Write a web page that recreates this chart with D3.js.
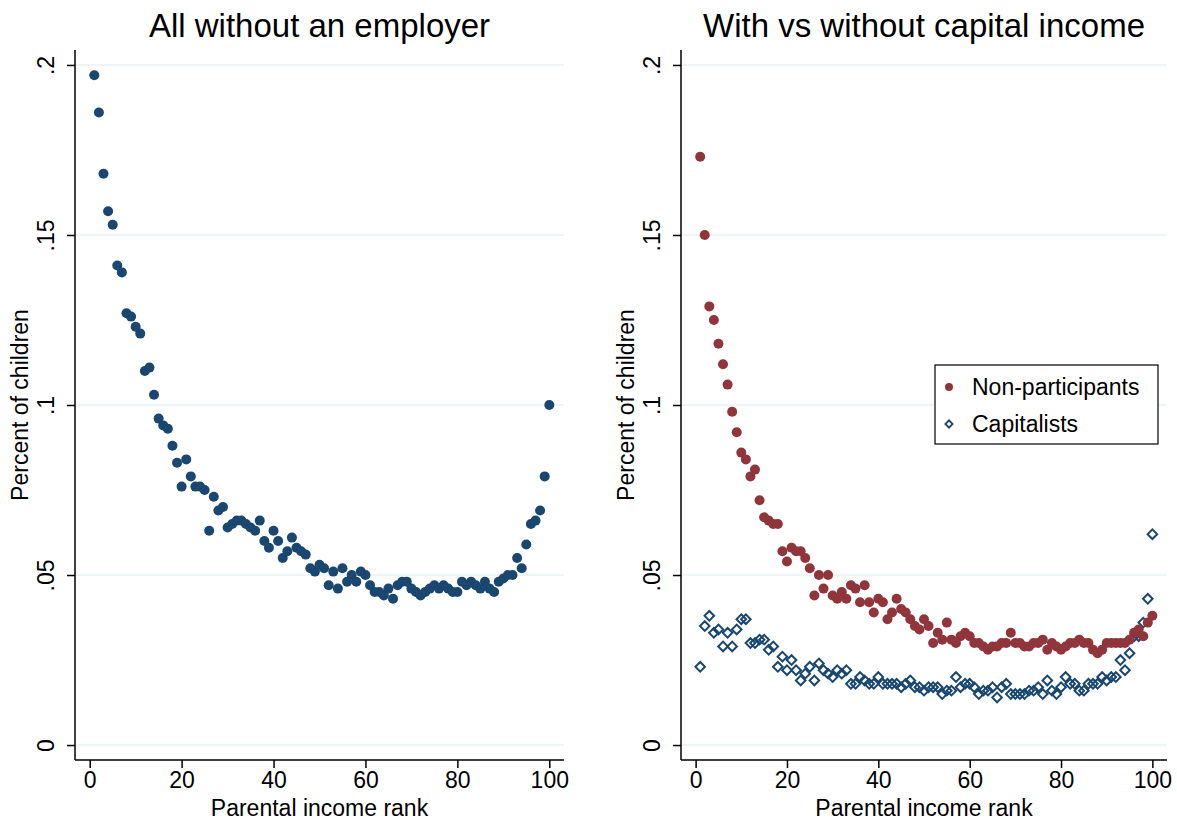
<!DOCTYPE html>
<html>
<head>
<meta charset="utf-8">
<script src="https://cdn.jsdelivr.net/npm/d3@7"></script>
<style>
  body { margin: 0; background: #fff; }
  svg { font-family: "Liberation Sans", Arial, sans-serif; }
</style>
</head>
<body>
<svg width="1177" height="823"></svg>
<script>
// parental income rank 1..100
var ranks = d3.range(1, 101);

// left panel: all without an employer
var allNoEmployer = [
  0.197, 0.186, 0.168, 0.157, 0.153, 0.141, 0.139, 0.127, 0.126, 0.123,
  0.121, 0.110, 0.111, 0.103, 0.096, 0.094, 0.093, 0.088, 0.083, 0.076,
  0.084, 0.079, 0.076, 0.076, 0.075, 0.063, 0.073, 0.069, 0.070, 0.064,
  0.065, 0.066, 0.066, 0.065, 0.064, 0.063, 0.066, 0.060, 0.058, 0.063,
  0.060, 0.055, 0.057, 0.061, 0.058, 0.057, 0.056, 0.052, 0.051, 0.053,
  0.052, 0.047, 0.051, 0.046, 0.052, 0.048, 0.050, 0.048, 0.051, 0.050,
  0.047, 0.045, 0.045, 0.044, 0.046, 0.043, 0.047, 0.048, 0.048, 0.046,
  0.045, 0.044, 0.045, 0.046, 0.047, 0.046, 0.047, 0.046, 0.045, 0.045,
  0.048, 0.047, 0.048, 0.047, 0.046, 0.048, 0.046, 0.045, 0.048, 0.049,
  0.050, 0.050, 0.055, 0.052, 0.059, 0.065, 0.066, 0.069, 0.079, 0.100
];

// right panel: non-participants
var nonParticipants = [
  0.173, 0.150, 0.129, 0.125, 0.118, 0.112, 0.106, 0.098, 0.092, 0.086,
  0.084, 0.079, 0.081, 0.072, 0.067, 0.066, 0.065, 0.065, 0.057, 0.054,
  0.058, 0.057, 0.057, 0.055, 0.052, 0.044, 0.050, 0.046, 0.050, 0.044,
  0.043, 0.045, 0.043, 0.047, 0.046, 0.042, 0.047, 0.042, 0.039, 0.043,
  0.042, 0.037, 0.039, 0.043, 0.040, 0.039, 0.037, 0.035, 0.034, 0.037,
  0.035, 0.030, 0.033, 0.031, 0.036, 0.031, 0.030, 0.032, 0.033, 0.032,
  0.030, 0.030, 0.029, 0.028, 0.029, 0.029, 0.030, 0.030, 0.033, 0.030,
  0.030, 0.029, 0.029, 0.030, 0.030, 0.031, 0.028, 0.030, 0.029, 0.028,
  0.029, 0.030, 0.030, 0.031, 0.030, 0.030, 0.028, 0.027, 0.028, 0.030,
  0.030, 0.030, 0.030, 0.030, 0.031, 0.033, 0.034, 0.032, 0.036, 0.038
];

// right panel: capitalists
var capitalists = [
  0.023, 0.035, 0.038, 0.033, 0.034, 0.029, 0.033, 0.029, 0.034, 0.037,
  0.037, 0.030, 0.030, 0.031, 0.031, 0.028, 0.029, 0.023, 0.026, 0.022,
  0.025, 0.022, 0.019, 0.021, 0.023, 0.019, 0.024, 0.022, 0.021, 0.020,
  0.022, 0.021, 0.022, 0.018, 0.018, 0.020, 0.019, 0.018, 0.018, 0.020,
  0.018, 0.018, 0.018, 0.018, 0.017, 0.018, 0.019, 0.017, 0.017, 0.016,
  0.017, 0.017, 0.017, 0.015, 0.016, 0.016, 0.020, 0.017, 0.018, 0.018,
  0.017, 0.015, 0.016, 0.016, 0.017, 0.014, 0.017, 0.018, 0.015, 0.015,
  0.015, 0.015, 0.016, 0.016, 0.017, 0.015, 0.019, 0.016, 0.015, 0.017,
  0.020, 0.018, 0.018, 0.016, 0.016, 0.018, 0.018, 0.018, 0.020, 0.019,
  0.020, 0.020, 0.025, 0.022, 0.027, 0.032, 0.032, 0.036, 0.043, 0.062
];

var xTicks = [0, 20, 40, 60, 80, 100];
var yTicks = [0, 0.05, 0.1, 0.15, 0.2];
var yTickLabels = ["0", ".05", ".1", ".15", ".2"];
var panelTitles = ["All without an employer", "With vs without capital income"];
var legendLabels = ["Non-participants", "Capitalists"];

var blue = "#1a476f", red = "#90353b", gridColor = "#eaf2f3";

var svg = d3.select("svg");

var y = d3.scaleLinear().domain([-0.0044, 0.2044]).range([760, 50]);

function drawPanel(left, right, title) {
  var x = d3.scaleLinear().domain([-3.2, 103.2]).range([left, right]);
  var g = svg.append("g");

  // gridlines
  g.append("g").selectAll("line")
    .data(yTicks)
    .enter().append("line")
    .attr("x1", left).attr("x2", right)
    .attr("y1", function(d) { return y(d); })
    .attr("y2", function(d) { return y(d); })
    .attr("stroke", gridColor)
    .attr("stroke-width", 1.5);

  // y axis
  var yAxis = g.append("g")
    .attr("transform", "translate(" + left + ",0)")
    .call(d3.axisLeft(y).tickValues(yTicks)
      .tickFormat(function(d, i) { return yTickLabels[i]; })
      .tickSize(8).tickPadding(6));
  yAxis.select(".domain").attr("stroke", "#000").attr("stroke-width", 1.5)
    .attr("d", "M0," + y.range()[0] + "V" + y.range()[1]);
  yAxis.selectAll(".tick line").attr("stroke", "#000").attr("stroke-width", 1.5);
  yAxis.selectAll(".tick text")
    .attr("font-size", 23)
    .attr("fill", "#000")
    .attr("text-anchor", "middle")
    .attr("dy", 0)
    .attr("x", 0)
    .attr("transform", "translate(-21,0) rotate(-90)");

  // x axis
  var xAxis = g.append("g")
    .attr("transform", "translate(0," + y.range()[0] + ")")
    .call(d3.axisBottom(x).tickValues(xTicks).tickSize(8).tickPadding(4));
  xAxis.select(".domain").attr("stroke", "#000").attr("stroke-width", 1.5)
    .attr("d", "M" + left + ",0H" + right);
  xAxis.selectAll(".tick line").attr("stroke", "#000").attr("stroke-width", 1.5);
  xAxis.selectAll(".tick text").attr("font-size", 23).attr("fill", "#000");

  // titles
  g.append("text")
    .attr("x", (left + right) / 2).attr("y", 37)
    .attr("text-anchor", "middle")
    .attr("font-size", 33)
    .text(title);

  g.append("text")
    .attr("x", (left + right) / 2).attr("y", 816)
    .attr("text-anchor", "middle")
    .attr("font-size", 23)
    .text("Parental income rank");

  g.append("text")
    .attr("transform", "translate(" + (left - 47) + "," + ((y.range()[0] + y.range()[1]) / 2) + ") rotate(-90)")
    .attr("text-anchor", "middle")
    .attr("font-size", 23)
    .text("Percent of children");

  return { g: g, x: x };
}

var p1 = drawPanel(75, 564, panelTitles[0]);
p1.g.append("g").selectAll("circle")
  .data(ranks)
  .enter().append("circle")
  .attr("cx", function(d) { return p1.x(d); })
  .attr("cy", function(d, i) { return y(allNoEmployer[i]); })
  .attr("r", 5)
  .attr("fill", blue);

var p2 = drawPanel(681, 1167, panelTitles[1]);

var diamond = d3.symbol().type(d3.symbolSquare).size(46);

p2.g.append("g").selectAll("path")
  .data(ranks)
  .enter().append("path")
  .attr("d", diamond)
  .attr("transform", function(d, i) {
    return "translate(" + p2.x(d) + "," + y(capitalists[i]) + ") rotate(45)";
  })
  .attr("fill", "none")
  .attr("stroke", blue)
  .attr("stroke-width", 2);

p2.g.append("g").selectAll("circle")
  .data(ranks)
  .enter().append("circle")
  .attr("cx", function(d) { return p2.x(d); })
  .attr("cy", function(d, i) { return y(nonParticipants[i]); })
  .attr("r", 5)
  .attr("fill", red);

// legend
var legend = svg.append("g").attr("transform", "translate(935,365)");
legend.append("rect")
  .attr("width", 223).attr("height", 79)
  .attr("fill", "#fff").attr("stroke", "#000").attr("stroke-width", 1.2);
legend.append("circle").attr("cx", 14).attr("cy", 22).attr("r", 4).attr("fill", red);
legend.append("path")
  .attr("d", d3.symbol().type(d3.symbolSquare).size(26))
  .attr("transform", "translate(14,59) rotate(45)")
  .attr("fill", "none").attr("stroke", blue).attr("stroke-width", 1.8);
legend.selectAll("text.lab")
  .data(legendLabels)
  .enter().append("text")
  .attr("class", "lab")
  .attr("x", 37)
  .attr("y", function(d, i) { return 30 + i * 37; })
  .attr("font-size", 23)
  .text(function(d) { return d; });
</script>
</body>
</html>
